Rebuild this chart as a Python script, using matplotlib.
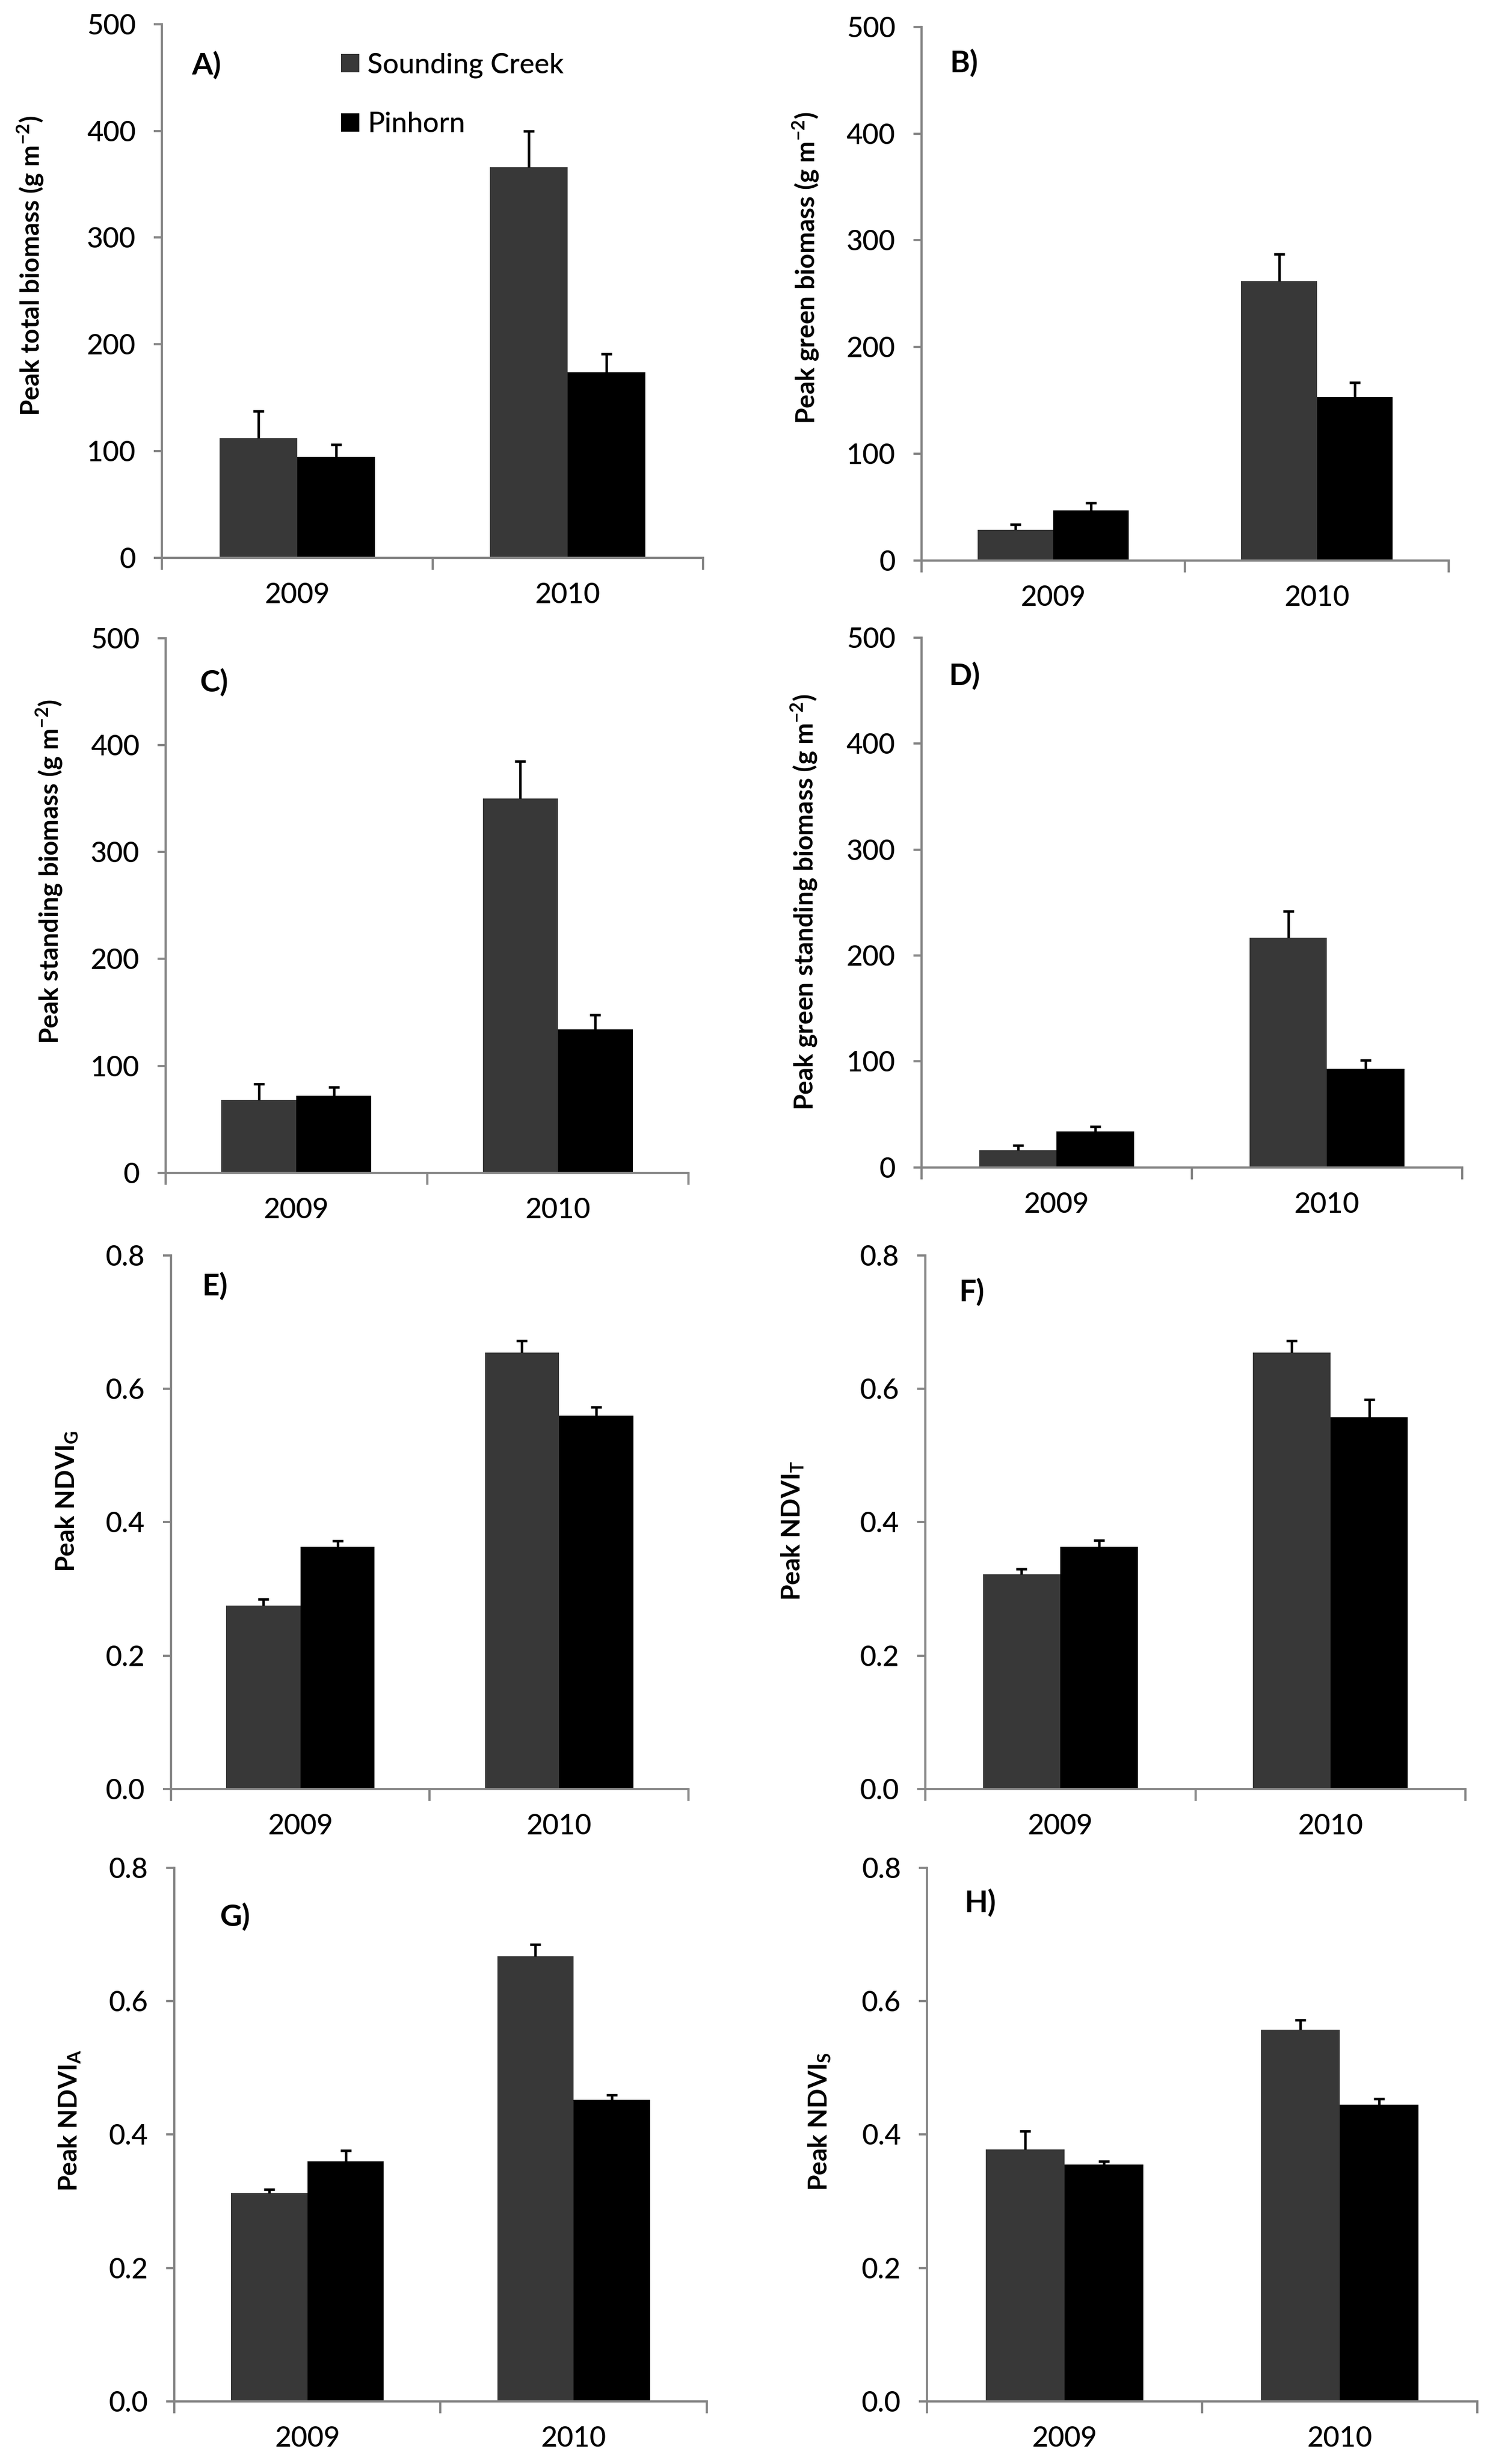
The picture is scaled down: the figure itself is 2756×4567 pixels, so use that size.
import matplotlib
matplotlib.use('Agg')
import matplotlib.pyplot as plt
from matplotlib.ticker import FixedLocator, FormatStrFormatter

plt.rcParams['font.family'] = ['Lato', 'DejaVu Sans']
plt.rcParams['mathtext.fontset'] = 'custom'
plt.rcParams['mathtext.rm'] = 'Lato'
plt.rcParams['mathtext.bf'] = 'Lato:bold'

years = ['2009', '2010']
sites = ['Sounding Creek', 'Pinhorn']
site_colors = ['#383838', '#000000']

sc_total = [112, 366]
sc_total_err = [25.5, 34]
pin_total = [94.5, 174]
pin_total_err = [11.5, 17]

sc_green = [29, 262]
sc_green_err = [5, 25]
pin_green = [47, 153]
pin_green_err = [7, 14]

sc_stand = [68, 350]
sc_stand_err = [15, 35]
pin_stand = [72, 134]
pin_stand_err = [8, 14]

sc_gstand = [16, 217]
sc_gstand_err = [5, 25]
pin_gstand = [34, 93]
pin_gstand_err = [4.5, 8]

sc_ndvig = [0.275, 0.654]
sc_ndvig_err = [0.010, 0.018]
pin_ndvig = [0.363, 0.560]
pin_ndvig_err = [0.009, 0.013]

sc_ndvit = [0.322, 0.654]
sc_ndvit_err = [0.008, 0.018]
pin_ndvit = [0.363, 0.557]
pin_ndvit_err = [0.010, 0.027]

sc_ndvia = [0.312, 0.667]
sc_ndvia_err = [0.006, 0.018]
pin_ndvia = [0.360, 0.452]
pin_ndvia_err = [0.016, 0.007]

sc_ndvis = [0.378, 0.557]
sc_ndvis_err = [0.027, 0.015]
pin_ndvis = [0.355, 0.445]
pin_ndvis_err = [0.005, 0.009]

biomass_unit = r' (g m$^{\mathbf{-2}}$)'
panels = [
    ('A)', 'Peak total biomass' + biomass_unit, sc_total, sc_total_err, pin_total, pin_total_err),
    ('B)', 'Peak green biomass' + biomass_unit, sc_green, sc_green_err, pin_green, pin_green_err),
    ('C)', 'Peak standing biomass' + biomass_unit, sc_stand, sc_stand_err, pin_stand, pin_stand_err),
    ('D)', 'Peak green standing biomass' + biomass_unit, sc_gstand, sc_gstand_err, pin_gstand, pin_gstand_err),
    ('E)', r'Peak NDVI$_\mathbf{G}$', sc_ndvig, sc_ndvig_err, pin_ndvig, pin_ndvig_err),
    ('F)', r'Peak NDVI$_\mathbf{T}$', sc_ndvit, sc_ndvit_err, pin_ndvit, pin_ndvit_err),
    ('G)', r'Peak NDVI$_\mathbf{A}$', sc_ndvia, sc_ndvia_err, pin_ndvia, pin_ndvia_err),
    ('H)', r'Peak NDVI$_\mathbf{S}$', sc_ndvis, sc_ndvis_err, pin_ndvis, pin_ndvis_err),
]

# layout: axes rect, ylabel coords, panel letter coords
rects = [
    [0.1089, 0.7736, 0.3639, 0.2166], [0.6197, 0.7725, 0.3545, 0.2166],
    [0.1114, 0.5240, 0.3516, 0.2170], [0.6197, 0.5262, 0.3636, 0.2150],
    [0.1150, 0.2739, 0.3480, 0.2166], [0.6223, 0.2739, 0.3632, 0.2166],
    [0.1172, 0.0254, 0.3581, 0.2166], [0.6234, 0.0254, 0.3701, 0.2166],
]
label_xy = [(-0.216, 0.547), (-0.191, 0.548), (-0.194, 0.564), (-0.189, 0.501),
            (-0.176, 0.539), (-0.222, 0.484), (-0.172, 0.526), (-0.172, 0.524)]
letter_xy = [(0.055, 0.923), (0.054, 0.932), (0.066, 0.917), (0.051, 0.928),
             (0.060, 0.942), (0.062, 0.931), (0.086, 0.908), (0.068, 0.934)]

axis_gray = '#868686'
width = 0.287
centers = [0.5, 1.5]
tick_size = 12.5

fig = plt.figure(figsize=(2756 / 300, 4567 / 300), dpi=300)

for i, (letter, ylabel, sc, sc_err, pin, pin_err) in enumerate(panels):
    ax = fig.add_axes(rects[i])
    x_sc = [c - width / 2 for c in centers]
    x_pin = [c + width / 2 for c in centers]
    ax.bar(x_sc, sc, width, color=site_colors[0], label=sites[0], zorder=2)
    ax.bar(x_pin, pin, width, color=site_colors[1], label=sites[1], zorder=2)

    for xs, vals, errs in [(x_sc, sc, sc_err), (x_pin, pin, pin_err)]:
        tops = [v + e for v, e in zip(vals, errs)]
        ax.vlines(xs, vals, tops, color='black', lw=1.1, zorder=3)
        ax.plot(xs, tops, ls='none', marker='_', ms=5, mew=1.1, color='black', zorder=3)

    ax.set_xlim(0, 2)
    if i < 4:
        ax.set_ylim(0, 500)
        ax.set_yticks([0, 100, 200, 300, 400, 500])
    else:
        ax.set_ylim(0, 0.8)
        ax.set_yticks([0.0, 0.2, 0.4, 0.6, 0.8])
        ax.yaxis.set_major_formatter(FormatStrFormatter('%.1f'))

    ax.xaxis.set_major_locator(FixedLocator([0, 1, 2]))
    ax.xaxis.set_minor_locator(FixedLocator(centers))
    ax.set_xticklabels([], minor=False)
    ax.set_xticklabels(years, minor=True)
    ax.tick_params(axis='x', which='major', direction='out', length=5.3, width=1.0, color=axis_gray)
    ax.tick_params(axis='x', which='minor', length=0, pad=11, labelsize=tick_size)
    ax.tick_params(axis='y', direction='out', length=3.6, width=1.0, color=axis_gray, pad=8, labelsize=tick_size)
    for lab in ax.get_yticklabels() + ax.get_xticklabels(minor=True):
        lab.set_fontweight('medium')

    for side in ['top', 'right']:
        ax.spines[side].set_visible(False)
    for side in ['left', 'bottom']:
        ax.spines[side].set_color(axis_gray)
        ax.spines[side].set_linewidth(1.0)

    ax.set_ylabel(ylabel, fontsize=11.5, fontweight='bold')
    ax.yaxis.set_label_coords(*label_xy[i])
    ax.text(letter_xy[i][0], letter_xy[i][1], letter, transform=ax.transAxes,
            fontsize=13.5, fontweight='bold', ha='left', va='center')

    if i == 0:
        ax.legend(loc='upper left', bbox_to_anchor=(0.31, 0.968), frameon=False,
                  prop={'size': 12.5, 'weight': 'medium'},
                  handlelength=0.65, handleheight=0.65, handletextpad=0.3, labelspacing=1.2,
                  borderaxespad=0)

fig.savefig('out.png', dpi=300)
